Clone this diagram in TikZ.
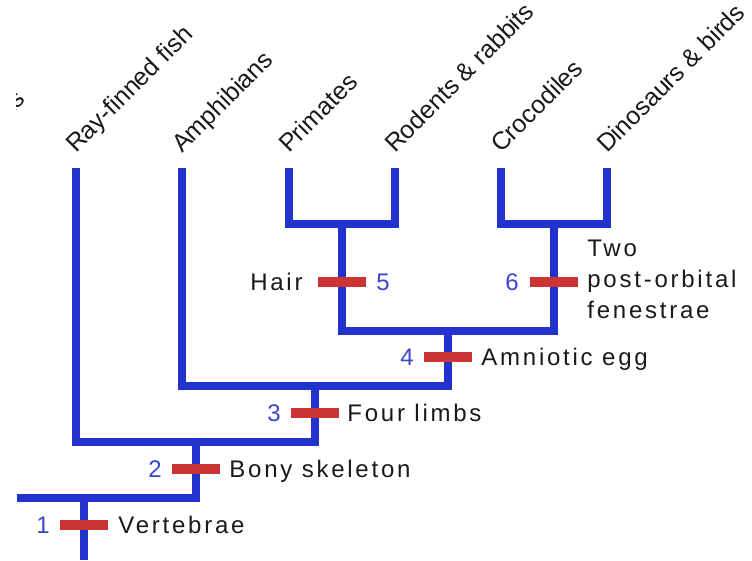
\documentclass[tikz,border=0pt]{standalone}
\usepackage{fontspec}
\setmainfont{Liberation Sans}
\newfontfamily\trackfont[LetterSpace=11.5]{Liberation Sans}
\usetikzlibrary{calc}
\definecolor{lineblue}{RGB}{34,51,204}
\definecolor{numblue}{RGB}{60,70,205}
\definecolor{markred}{RGB}{204,51,51}
\definecolor{txt}{RGB}{25,25,25}
\begin{document}
\begin{tikzpicture}[x=1pt,y=-1pt,
  branch/.style={draw=lineblue, line width=8pt, line join=miter, line cap=butt},
  marker/.style={rectangle, fill=markred, minimum width=48pt, minimum height=10pt, inner sep=0pt},
  taxon/.style={rotate=45, anchor=base west, inner sep=0pt, text=txt, font=\fontsize{25}{29}\selectfont},
  trait/.style={anchor=base west, inner sep=0pt, text=txt, font=\trackfont\fontsize{24}{31}\selectfont},
  num/.style={anchor=base east, inner sep=0pt, text=numblue, font=\trackfont\fontsize{24}{28}\selectfont}]
\useasboundingbox (0,0) rectangle (752,560);
\fill[white] (0,0) rectangle (752,560);

% tips
\coordinate (tRF) at (76,168);
\coordinate (tAm) at (182,168);
\coordinate (tPr) at (289,168);
\coordinate (tRo) at (395,168);
\coordinate (tCr) at (501,168);
\coordinate (tDi) at (607,168);
% joins
\coordinate (j1) at (342,224);
\coordinate (j2) at (554,224);
\coordinate (j3) at (448,331);
\coordinate (j4) at (315,386);
\coordinate (j5) at (196,442);
\coordinate (j6) at (84,498);
\coordinate (lft) at (17,498);
\coordinate (root) at (84,560);

% branches
\draw[branch] (tPr) |- (j1) -| (tRo);
\draw[branch] (tCr) |- (j2) -| (tDi);
\draw[branch] (j1) |- (j3) -| (j2);
\draw[branch] (tAm) |- (j4) -| (j3);
\draw[branch] (tRF) |- (j5) -| (j4);
\draw[branch] (lft) -- (j6) -| (j5);
\draw[branch] (j6) -- (root);

% taxa labels
\begin{scope}
\clip (16,0) rectangle (752,560);
\node[taxon, anchor=base east] (lSh) at (26,101) {Sharks};
\end{scope}
\node[taxon] (lRF) at (76,154) {Ray-finned fish};
\node[taxon] (lAm) at (182,154) {Amphibians};
\node[taxon] (lPr) at (289,154) {Primates};
\node[taxon] (lRo) at (395,154) {Rodents \& rabbits};
\node[taxon] (lCr) at (501,154) {Crocodiles};
\node[taxon] (lDi) at (607,154) {Dinosaurs \& birds};

% markers
\node[marker] (m1) at (84,525) {};
\node[marker] (m2) at (196,469) {};
\node[marker] (m3) at (315,413) {};
\node[marker] (m4) at (448,357) {};
\node[marker] (m5) at (342,282) {};
\node[marker] (m6) at (554,282) {};

% numbers
\node[num] (n1) at ($(m1.west)+(-10,8.5)$) {1};
\node[num] (n2) at ($(m2.west)+(-10,8.5)$) {2};
\node[num] (n3) at ($(m3.west)+(-10,8.5)$) {3};
\node[num] (n4) at ($(m4.west)+(-10,8.5)$) {4};
\node[num, anchor=base west] (n5) at ($(m5.east)+(10,8.5)$) {5};
\node[num] (n6) at ($(m6.west)+(-11,8.5)$) {6};

% traits
\node[trait] (c1) at ($(m1.east)+(10,8.5)$) {Vertebrae};
\node[trait] (c2) at ($(m2.east)+(9,8.5)$) {Bony skeleton};
\node[trait] (c3) at ($(m3.east)+(8,8.5)$) {Four limbs};
\node[trait] (c4) at ($(m4.east)+(9,8.5)$) {Amniotic egg};
\node[trait, anchor=base east] (c5) at ($(m5.west)+(-15,8.5)$) {Hair};
\node[trait, anchor=north west, align=left] (c6) at ($(m6.east)+(9,-42)$) {Two\\post-orbital\\fenestrae};
\end{tikzpicture}
\end{document}
